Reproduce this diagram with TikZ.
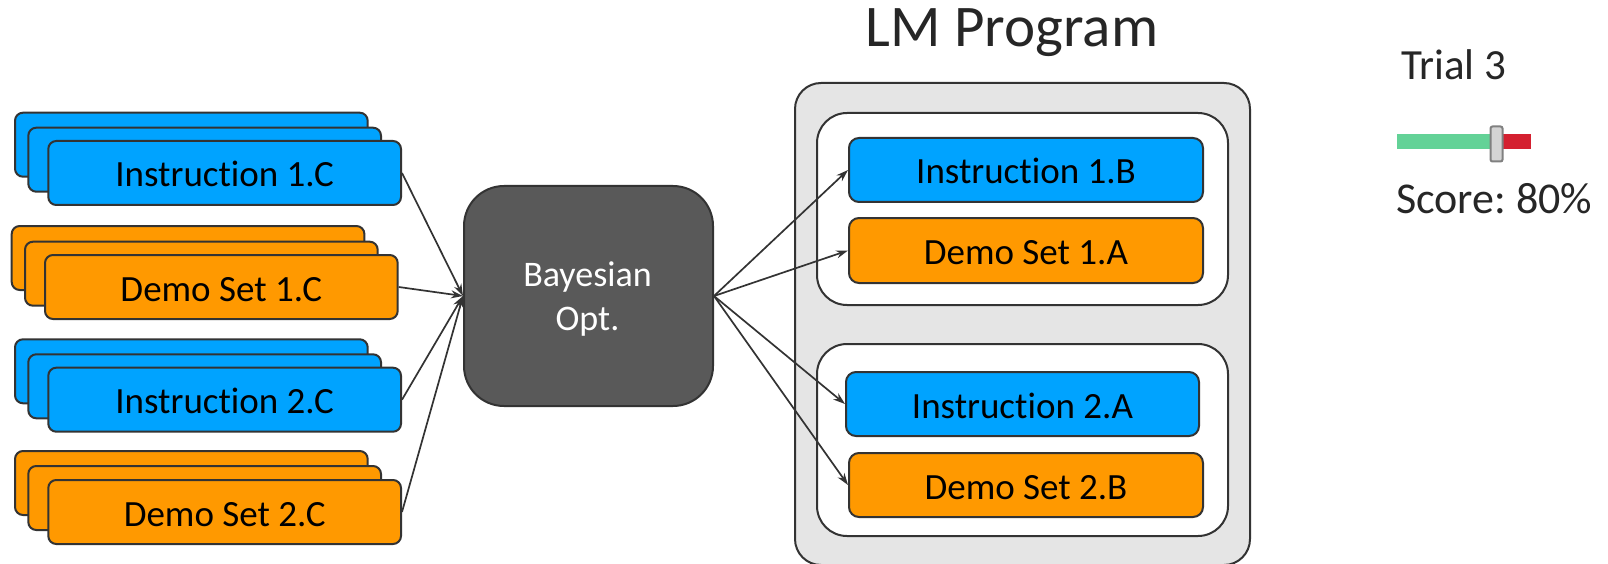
\documentclass[tikz,border=0pt]{standalone}
\usepackage{fontspec}
\setmainfont[Ligatures=NoCommon]{Carlito}
\frenchspacing
\usetikzlibrary{arrows.meta,calc}

\definecolor{instblue}{RGB}{0,163,255}
\definecolor{demoorange}{RGB}{255,153,0}
\definecolor{edge}{RGB}{51,51,51}
\definecolor{panelgray}{RGB}{229,229,229}
\definecolor{optgray}{RGB}{89,89,89}
\definecolor{scoregreen}{RGB}{99,210,151}
\definecolor{scorered}{RGB}{212,32,48}
\definecolor{knobgray}{RGB}{212,212,212}
\definecolor{knobedge}{RGB}{128,128,128}
\definecolor{titletext}{RGB}{38,38,38}

\begin{document}
\begin{tikzpicture}[x=1pt,y=-1pt,
  card/.style={draw=edge, line width=2pt, rounded corners=8pt,
    minimum width=352.7pt, minimum height=64pt, inner sep=0pt,
    anchor=north west, text height=28pt, text depth=0pt,
    font=\fontsize{37}{44}\selectfont},
  inst/.style={card, fill=instblue},
  demo/.style={card, fill=demoorange},
  slotw/.style={rounded corners=10pt, minimum width=354pt},
  panel/.style={draw=edge, line width=2pt, fill=panelgray, rounded corners=26pt,
    anchor=north west, inner sep=0pt},
  group/.style={draw=edge, line width=2pt, fill=white, rounded corners=30pt,
    anchor=north west, inner sep=0pt, minimum width=411pt, minimum height=192pt},
  optbox/.style={draw=edge, line width=2pt, fill=optgray, rounded corners=40pt,
    anchor=north west, inner sep=0pt, minimum width=249pt, minimum height=220pt},
  optlabel/.style={anchor=base, inner sep=0pt, text=white,
    font=\fontsize{36}{43}\selectfont},
  flow/.style={draw=edge, line width=1.7pt, -{Stealth[length=12pt,width=8pt]}},
]
\fill[white] (0,0) rectangle (1608,564);
\useasboundingbox (0,0) rectangle (1608,564);

% candidate pools on the left (three stacked cards each)
\node[inst] (i1cb) at (14,111.7) {};
\node[inst] (i1cm) at (27.3,126.7) {};
\node[inst] (i1c)  at (47.3,140) {Instruction 1.C};

\node[demo] (d1cb) at (10.7,225) {};
\node[demo] (d1cm) at (24,240.7) {};
\node[demo] (d1c)  at (44,254) {Demo Set 1.C};

\node[inst] (i2cb) at (14,338.3) {};
\node[inst] (i2cm) at (27.3,353.3) {};
\node[inst] (i2c)  at (47.3,366.7) {Instruction 2.C};

\node[demo] (d2cb) at (14,450) {};
\node[demo] (d2cm) at (27.3,465) {};
\node[demo] (d2c)  at (47.3,479) {Demo Set 2.C};

% optimizer
\node[optbox] (bay) at (463,185) {};
\node[optlabel] (bayl1) at (587.5,286.7) {Bayesian};
\node[optlabel] (bayl2) at (587.5,330) {Opt.};

% program panel
\node[anchor=base, inner sep=0pt, text=titletext,
  font=\fontsize{59}{70}\selectfont] (title) at (1012,47) {LM Program};
\node[panel, minimum width=455pt, minimum height=482pt] (prog) at (794,82) {};
\node[group] (mod1) at (816,112) {};
\node[group] (mod2) at (816,343) {};

\node[inst, slotw] (i1b) at (848,137) {Instruction 1.B};
\node[demo, slotw, minimum height=65pt] (d1a) at (848,217) {Demo Set 1.A};
\node[inst, slotw, minimum width=353pt] (i2a) at (845,371) {Instruction 2.A};
\node[demo, slotw] (d2b) at (848,452) {Demo Set 2.B};

% connectors
\draw[flow] (i1c.east) -- (bay.west);
\draw[flow] (d1c.east) -- (bay.west);
\draw[flow] (i2c.east) -- (bay.west);
\draw[flow] (d2c.east) -- (bay.west);

\draw[flow] (bay.east) -- (i1b.west);
\draw[flow] (bay.east) -- (d1a.west);
\draw[flow] (bay.east) -- (i2a.west);
\draw[flow] (bay.east) -- (d2b.west);

% trial readout
\node[anchor=base west, inner sep=0pt, text=titletext,
  font=\fontsize{43}{50}\selectfont] (trial) at (1401,80) {Trial 3};
\fill[scoregreen] (1397,134) rectangle (1496,149);
\fill[scorered] (1497,134) rectangle (1531,149);
\draw[draw=knobedge, fill=knobgray, line width=2pt, rounded corners=2pt]
  (1490.5,126.5) rectangle (1502.5,161.5);
\node[anchor=base west, inner sep=0pt, text=titletext,
  font=\fontsize{44}{52}\selectfont] (score) at (1396,213) {Score: 80\%};
\end{tikzpicture}
\end{document}
